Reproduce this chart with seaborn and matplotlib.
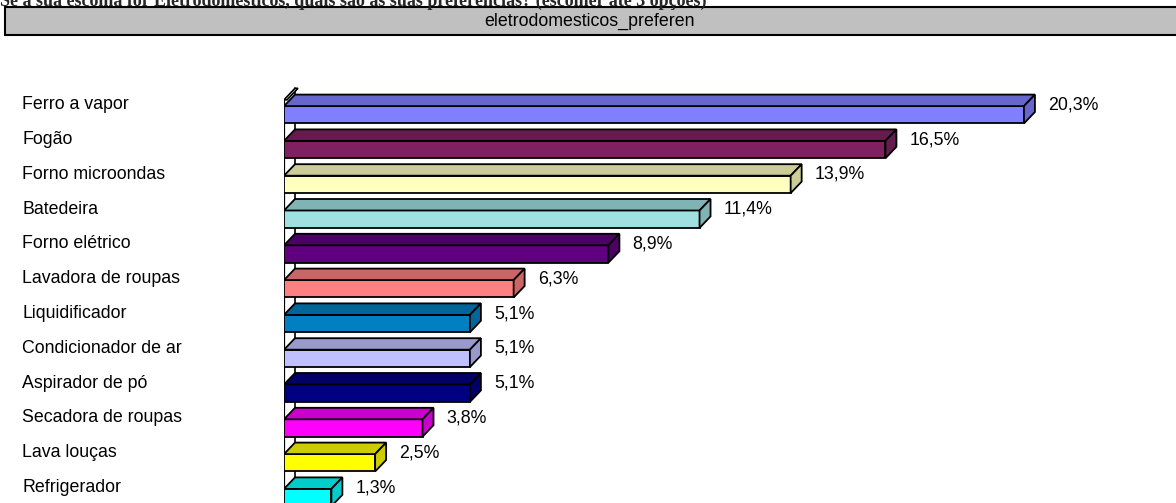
import matplotlib
matplotlib.use("Agg")
import matplotlib.pyplot as plt
import matplotlib.transforms as mtransforms
from matplotlib.patches import Polygon, Rectangle
import seaborn as sns
import pandas as pd

# dados do grafico
categorias = ['Ferro a vapor', 'Fogão', 'Forno microondas', 'Batedeira', 'Forno elétrico',
              'Lavadora de roupas', 'Liquidificador', 'Condicionador de ar', 'Aspirador de pó',
              'Secadora de roupas', 'Lava louças', 'Refrigerador']
valores = [20.3, 16.5, 13.9, 11.4, 8.9, 6.3, 5.1, 5.1, 5.1, 3.8, 2.5, 1.3]
rotulos = ['20,3%', '16,5%', '13,9%', '11,4%', '8,9%', '6,3%', '5,1%', '5,1%', '5,1%',
           '3,8%', '2,5%', '1,3%']

cores_frente = ['#8080FF', '#802060', '#FFFFC0', '#A0E0E0', '#600080', '#FF8080',
                '#0080C0', '#C0C0FF', '#000080', '#FF00FF', '#FFFF00', '#00FFFF']
cores_topo = ['#6666CC', '#661A4D', '#CCCC99', '#80B3B3', '#4D0066', '#CC6666',
              '#006699', '#9999CC', '#000066', '#CC00CC', '#CCCC00', '#00CCCC']

titulo = 'Se a sua escolha for Eletrodomésticos, quais são as suas preferências? (escolher até 3 opções)'
variavel = 'eletrodomesticos_preferen'

df = pd.DataFrame({'cat': categorias, 'val': valores})

sns.set_style("white")
plt.rcParams['font.family'] = ['Liberation Sans', 'DejaVu Sans']

W, H = 1176, 503
fig = plt.figure(figsize=(W / 100, H / 100), dpi=100)
ax = fig.add_axes([284 / W, 0, (W - 284) / W, 423 / H])

sns.barplot(data=df, x='val', y='cat', hue='cat', palette=cores_frente, legend=False,
            orient='h', width=0.5, edgecolor='black', linewidth=1.3, saturation=1,
            ax=ax, zorder=3)

px_x = 36.45   # pixels por %
px_y = 34.8    # pixels por linha
dx = 11 / px_x
dy = 11.5 / px_y
xmax = (W - 284) / px_x
ax.set_xlim(0, xmax)
ax.set_ylim(-1.0 + 423 / px_y, -1.0)

# parede do fundo
yw = -0.43
t = 3 / px_x
ax.plot([0, 0], [yw, 12], color='black', lw=1.6, zorder=1)
ax.plot([dx, dx], [yw - dy, 12], color='black', lw=1.2, zorder=1)
ax.add_patch(Polygon([(0, yw), (dx, yw - dy), (dx + t, yw - dy), (t, yw)],
                     closed=True, facecolor='white', edgecolor='black', lw=1.2, zorder=2))

# faces 3D
for i, v in enumerate(valores):
    h = 0.5
    yt = i - h / 2
    yb = i + h / 2
    ax.add_patch(Polygon([(0, yt), (dx, yt - dy), (v + dx, yt - dy), (v, yt)], closed=True,
                         facecolor=cores_topo[i], edgecolor='black', lw=1.3, zorder=4))
    ax.add_patch(Polygon([(v, yt), (v + dx, yt - dy), (v + dx, yb - dy), (v, yb)], closed=True,
                         facecolor=cores_topo[i], edgecolor='black', lw=1.3, zorder=4))
    ax.text(v + dx + 13 / px_x, i - 0.29, rotulos[i], ha='left', va='center',
            fontsize=12.8, color='black')

# rotulos das categorias
trans = mtransforms.blended_transform_factory(fig.transFigure, ax.transData)
for i, c in enumerate(categorias):
    ax.text(22 / W, i - 0.29, c, transform=trans, ha='left', va='center',
            fontsize=12.8, color='black', clip_on=False)

ax.set_xlabel('')
ax.set_ylabel('')
ax.set_xticks([])
ax.set_yticks([])
for s in ax.spines.values():
    s.set_visible(False)

# caixa cinza com o nome da variavel
fig.patches.append(Rectangle((5 / W, 1 - 35 / H), (W + 10) / W, 28 / H, transform=fig.transFigure,
                             facecolor='#C0C0C0', edgecolor='black', lw=1.5, zorder=0))
fig.text(590 / W, 1 - 21 / H, variavel, ha='center', va='center', fontsize=12.8, color='black')

fig.text(0, 1 - 6 / H, titulo, ha='left', va='baseline', fontsize=13, fontweight='bold',
         family=['Liberation Serif', 'DejaVu Serif'])

fig.savefig('out.png', dpi=100)
